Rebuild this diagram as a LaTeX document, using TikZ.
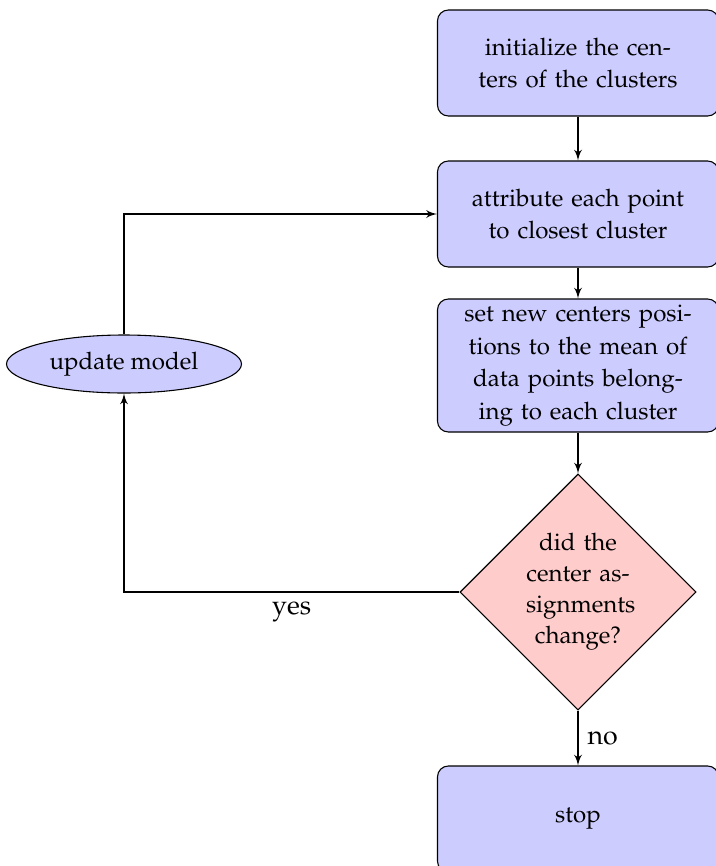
\documentclass[tikz,border=0pt]{standalone}
\usepackage[T1]{fontenc}
\usepackage{mathpazo}
\usetikzlibrary{shapes.geometric,arrows}

\begin{document}
\begin{tikzpicture}[x=0.37pt, y=-0.37pt,
  every node/.style={font=\fontsize{8.9}{12}\selectfont},
  block/.style={rectangle, draw, fill=blue!20, rounded corners=4pt,
    minimum width=281*0.37pt, minimum height=106*0.37pt, inner sep=1.5pt,
    text width=265*0.37pt, align=center},
  decision/.style={diamond, draw, fill=red!20, aspect=1, inner sep=0pt,
    minimum width=236*0.37pt, minimum height=236*0.37pt,
    text width=104*0.37pt, align=center,
    font=\fontsize{8.9}{11.5}\selectfont},
  cloud/.style={ellipse, draw, fill=blue!20, inner sep=0pt,
    minimum width=235*0.37pt, minimum height=58*0.37pt},
  answer/.style={font=\fontsize{9.9}{12}\selectfont},
  line/.style={draw, -latex'}]
  \useasboundingbox (0,0) rectangle (715,866);
  \node[block] (init) at (578,63) {initialize the cen-\\ters of the clusters};
  \node[block] (attr) at (578,214) {attribute each point\\to closest cluster};
  \node[block, minimum height=133*0.37pt] (setn) at (578,365.5)
    {set new centers posi-\\tions to the mean of\\data points belong-\\ing to each cluster};
  \node[decision] (dec) at (578,592) {did the\\center as-\\signments\\change?};
  \node[block] (stop) at (578,819) {stop};
  \node[cloud] (upd) at (124,364) {update model};

  \path[line] (init) -- (attr);
  \path[line] (attr) -- (setn);
  \path[line] (setn) -- (dec);
  \path[line] (dec) -- node[midway, right, answer] {no} (stop);
  \path[line] (dec.west) -| node[pos=0.25, below, answer] {yes} (upd.south);
  \path[line] (upd.north) |- (attr.west);
\end{tikzpicture}
\end{document}
